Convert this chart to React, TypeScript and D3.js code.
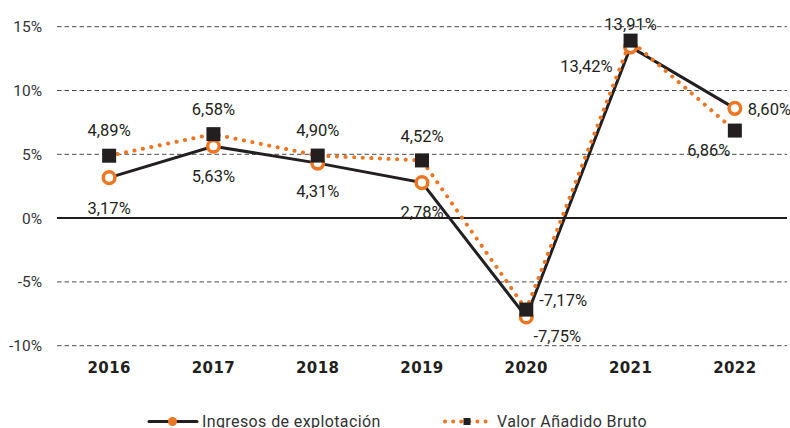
import * as d3 from "d3";

// Annual growth rates (%)
const years = ["2016", "2017", "2018", "2019", "2020", "2021", "2022"];
const ingresos = [3.17, 5.63, 4.31, 2.78, -7.75, 13.42, 8.6];
const vab = [4.89, 6.58, 4.9, 4.52, -7.17, 13.91, 6.86];
const yTicks = [-10, -5, 0, 5, 10, 15];

const ORANGE = "#ee7623";
const BLACK = "#231f20";

// label placement per point: dx, dy relative to marker, anchor
type Place = [number, number, "start" | "middle" | "end"];
const ingresosPlace: Place[] = [
  [0, 31, "middle"],
  [0, 30, "middle"],
  [0, 28, "middle"],
  [0, 30, "middle"],
  [31, 19, "middle"],
  [-18, 19, "end"],
  [13, 1, "start"],
];
const vabPlace: Place[] = [
  [0, -25, "middle"],
  [0, -25, "middle"],
  [0, -25, "middle"],
  [0, -24, "middle"],
  [13, -9, "start"],
  [0, -16, "middle"],
  [-26, 20, "middle"],
];

const fmt = (v: number) => v.toFixed(2).replace(".", ",") + "%";

export default function App() {
  const width = 790;
  const height = 428;
  const margin = { top: 0, right: 3, bottom: 0, left: 57 };

  const x = d3
    .scaleBand<string>()
    .domain(years)
    .range([margin.left, width - margin.right]);
  const cx = (yr: string) => (x(yr) ?? 0) + x.bandwidth() / 2;

  const y = d3.scaleLinear().domain([-10, 15]).range([345.7, 26.7]);

  const line = d3
    .line<number>()
    .x((_, i) => cx(years[i]))
    .y((d) => y(d));

  return (
    <svg
      width={width}
      height={height}
      style={{ position: "absolute", left: 0, top: 0, background: "#fff" }}
      fontFamily="Roboto, 'Liberation Sans', sans-serif"
    >
      {/* gridlines */}
      {yTicks.map((t) => (
        <g key={t}>
          <line
            x1={margin.left}
            x2={width - margin.right}
            y1={y(t)}
            y2={y(t)}
            stroke={t === 0 ? BLACK : "#4a4a4a"}
            strokeWidth={t === 0 ? 2 : 1}
            strokeDasharray={t === 0 ? undefined : "4.5 3"}
          />
          <text
            x={42}
            y={y(t)}
            dy="0.35em"
            textAnchor="end"
            fontSize={15.5}
            fill="#333"
          >
            {t}%
          </text>
        </g>
      ))}

      {/* category labels */}
      {years.map((yr) => (
        <text
          key={yr}
          x={cx(yr)}
          y={368}
          dy="0.35em"
          textAnchor="middle"
          fontFamily="'DejaVu Sans', sans-serif"
          fontWeight="bold"
          fontSize={15}
          letterSpacing={0.4}
          fill={BLACK}
        >
          {yr}
        </text>
      ))}

      {/* Ingresos de explotación */}
      <path d={line(ingresos) ?? ""} fill="none" stroke={BLACK} strokeWidth={3} />
      {/* Valor Añadido Bruto */}
      <path
        d={line(vab) ?? ""}
        fill="none"
        stroke={ORANGE}
        strokeWidth={4}
        strokeLinecap="round"
        strokeDasharray="0.1 8.5"
      />

      {ingresos.map((v, i) => (
        <circle
          key={"c" + i}
          cx={cx(years[i])}
          cy={y(v)}
          r={5.8}
          fill="#fff"
          stroke={ORANGE}
          strokeWidth={3.5}
        />
      ))}
      {vab.map((v, i) => (
        <rect
          key={"s" + i}
          x={cx(years[i]) - 7}
          y={y(v) - 7}
          width={14}
          height={14}
          fill={BLACK}
        />
      ))}

      {/* data labels */}
      {ingresos.map((v, i) => {
        const [dx, dy, anchor] = ingresosPlace[i];
        return (
          <text
            key={"li" + i}
            x={cx(years[i]) + dx}
            y={y(v) + dy}
            dy="0.35em"
            textAnchor={anchor}
            fontSize={16.5}
            fill={BLACK}
          >
            {fmt(v)}
          </text>
        );
      })}
      {vab.map((v, i) => {
        const [dx, dy, anchor] = vabPlace[i];
        return (
          <text
            key={"lv" + i}
            x={cx(years[i]) + dx}
            y={y(v) + dy}
            dy="0.35em"
            textAnchor={anchor}
            fontSize={16.5}
            fill={BLACK}
          >
            {fmt(v)}
          </text>
        );
      })}

      {/* legend */}
      <g fontSize={16} fill="#333" letterSpacing={0.4}>
        <line x1={149} x2={197} y1={421.5} y2={421.5} stroke={BLACK} strokeWidth={3} strokeLinecap="round" />
        <circle cx={172.5} cy={421.5} r={4.5} fill={ORANGE} />
        <text x={202} y={421} dy="0.35em">
          Ingresos de explotación
        </text>
        <line
          x1={445}
          x2={493}
          y1={421.5}
          y2={421.5}
          stroke={ORANGE}
          strokeWidth={4}
          strokeLinecap="round"
          strokeDasharray="0.1 8"
        />
        <rect x={463.5} y={418} width={7} height={7} fill={BLACK} />
        <text x={497} y={421} dy="0.35em">
          Valor Añadido Bruto
        </text>
      </g>
    </svg>
  );
}
